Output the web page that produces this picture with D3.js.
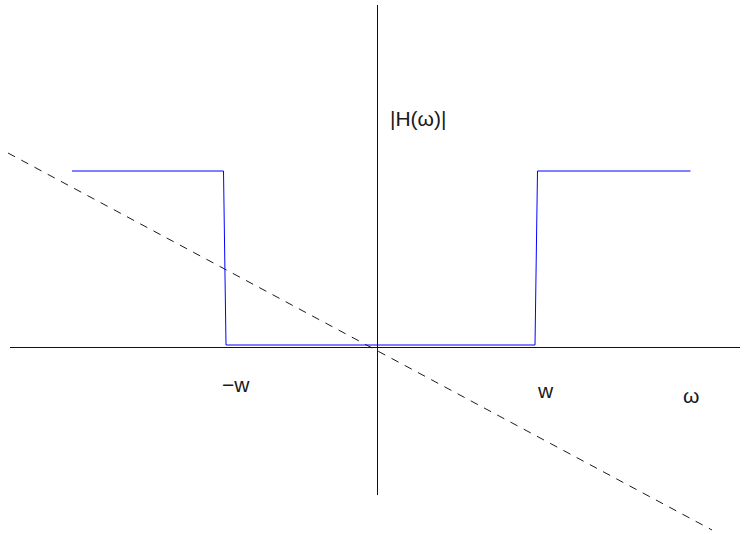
<!DOCTYPE html>
<html>
<head>
<meta charset="utf-8">
<script src="https://cdn.jsdelivr.net/npm/d3@7"></script>
<style>
html, body { margin: 0; padding: 0; background: #fff; }
svg { display: block; }
text { font-family: "Liberation Sans", Arial, Helvetica, sans-serif; fill: #1a1a1a; }
</style>
</head>
<body>
<svg id="chart" width="744" height="534"></svg>
<script>
// magnitude response |H(ω)| (blue): high-pass with cut-offs at ±w
const magX = [-3.05, -1.535, -1.51, 1.58, 1.605, 3.135];
const magY = [1.76, 1.76, 0.02, 0.02, 1.76, 1.76];
// linear phase (dashed)
const phaseX = [-3.69, 3.35];
const phaseY = [1.94, -1.83];
// axis extents
const hAxisX = [-3.67, 3.63];
const vAxisY = [3.42, -1.48];
// text labels
const labelText = ["|H(ω)|", "−w", "w", "ω"];
const labelX = [0.13, -1.55, 1.61, 3.06];
const labelY = [2.21, -0.45, -0.51, -0.56];

const W = 744, H = 534;
const x = d3.scaleLinear().domain([-3.7, 3.74]).range([7, 751]);
const y = d3.scaleLinear().domain([3.47, -1.87]).range([0, 534]);

const svg = d3.select("#chart");

// axes
svg.append("line")
  .attr("x1", x(hAxisX[0])).attr("x2", x(hAxisX[1]))
  .attr("y1", y(0)).attr("y2", y(0))
  .attr("stroke", "#111").attr("stroke-width", 1)
  .attr("shape-rendering", "crispEdges");
svg.append("line")
  .attr("x1", x(0)).attr("x2", x(0))
  .attr("y1", y(vAxisY[0])).attr("y2", y(vAxisY[1]))
  .attr("stroke", "#111").attr("stroke-width", 1)
  .attr("shape-rendering", "crispEdges");

const line = d3.line().x(d => x(d[0])).y(d => y(d[1]));

// dashed phase line
svg.append("path")
  .datum(phaseX.map((v, i) => [v, phaseY[i]]))
  .attr("d", line)
  .attr("fill", "none")
  .attr("stroke", "#000")
  .attr("stroke-width", 0.9)
  .attr("stroke-dasharray", "8,7");

// magnitude
svg.append("path")
  .datum(magX.map((v, i) => [v, magY[i]]))
  .attr("d", line)
  .attr("fill", "none")
  .attr("stroke", "#0000ff")
  .attr("stroke-width", 1);

// labels
svg.selectAll("text.lbl")
  .data(labelText)
  .enter().append("text")
  .attr("class", "lbl")
  .attr("x", (d, i) => x(labelX[i]))
  .attr("y", (d, i) => y(labelY[i]))
  .attr("font-size", 21)
  .text(d => d);
</script>
</body>
</html>
